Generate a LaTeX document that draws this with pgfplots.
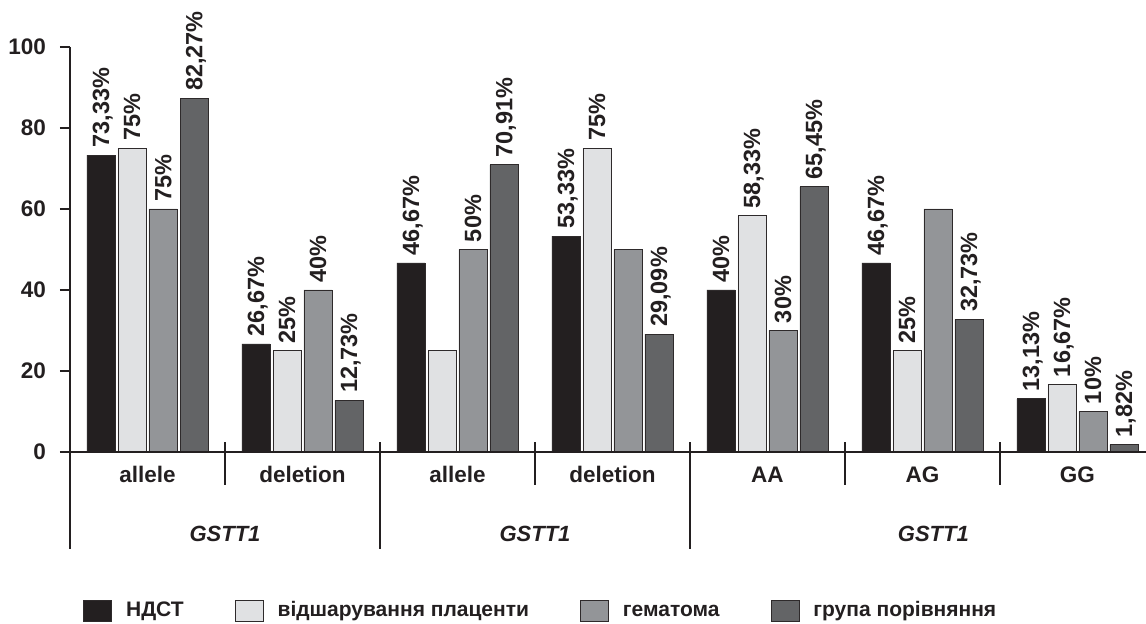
\documentclass[border=0pt]{standalone}
\usepackage{pgfplots}
\pgfplotsset{compat=1.18}
\usepackage{fontspec}
\setmainfont{Liberation Sans}
\definecolor{cA}{HTML}{231F20}
\definecolor{cB}{HTML}{E0E1E3}
\definecolor{cC}{HTML}{939598}
\definecolor{cD}{HTML}{636466}
\definecolor{cE}{HTML}{2E2A2B}
\pgfplotsset{
  sq/.style={fill=#1, draw=cE, line width=0.9bp,
    legend image code/.code={\draw[fill=#1, draw=cE, line width=0.9bp] (0bp,-10.5bp) rectangle (28bp,10.5bp);}}
}
\begin{document}
\begin{tikzpicture}
\useasboundingbox (0,0) rectangle (1146bp,624bp);
\begin{axis}[
  at={(70bp,172bp)}, anchor=south west,
  scale only axis, width=1076bp, height=405bp,
  xmin=-0.5, xmax=6.4419, ymin=0, ymax=100,
  clip=false,
  axis lines=left, axis line style={draw=none},
  ybar=3bp, bar width=28bp,
  ytick={0,20,40,60,80,100},
  tick align=outside, major tick length=10bp,
  y tick style={line width=1.2bp, color=cA},
  x tick style={draw=none},
  xtick={0,1,2,3,4,5,6},
  xticklabels={allele,deletion,allele,deletion,AA,AG,GG},
  xticklabel style={font=\fontsize{22.5bp}{26bp}\selectfont\bfseries, text=cA, anchor=base, inner sep=0pt, yshift=-20.7bp},
  yticklabel style={font=\fontsize{22.5bp}{26bp}\selectfont\bfseries, text=cA, anchor=east, inner sep=0pt, xshift=-14bp},
  /pgf/number format/assume math mode=true,
  point meta=explicit symbolic,
  nodes near coords,
  every node near coord/.append style={rotate=90, anchor=west, inner ysep=0pt, inner xsep=7bp,
     text height=16.5bp, text depth=0bp, text=cA,
     font=\fontsize{23.5bp}{27bp}\selectfont\bfseries},
  legend style={draw=none, fill=none, inner sep=0pt, at={(axis description cs:0.0121,-0.392)}, anchor=west,
     font=\fontsize{21bp}{25bp}\selectfont\bfseries, text=cA,
     /tikz/every even column/.append style={column sep=51bp},
     /tikz/every odd column/.append style={column sep=14bp},
     nodes={inner sep=0pt, text height=15.5bp, text depth=4.5bp}},
  legend columns=4, legend cell align=left,
]
\addplot[sq=cA] coordinates {(0,73.33) [73,33\%] (1,26.67) [26,67\%] (2,46.67) [46,67\%] (3,53.33) [53,33\%] (4,40) [40\%] (5,46.67) [46,67\%] (6,13.13) [13,13\%]};
\addplot[sq=cB] coordinates {(0,75) [75\%] (1,25) [25\%] (2,25) [] (3,75) [75\%] (4,58.33) [58,33\%] (5,25) [25\%] (6,16.67) [16,67\%]};
\addplot[sq=cC] coordinates {(0,60) [75\%] (1,40) [40\%] (2,50) [50\%] (3,50) [] (4,30) [30\%] (5,60) [] (6,10) [10\%]};
\addplot[sq=cD] coordinates {(0,87.3) [82,27\%] (1,12.73) [12,73\%] (2,70.91) [70,91\%] (3,29.09) [29,09\%] (4,65.45) [65,45\%] (5,32.73) [32,73\%] (6,1.82) [1,82\%]};
\legend{НДСТ,відшарування плаценти,гематома,група порівняння}
\draw[cA, line width=1.2bp] (axis cs:-0.5,0) -- (axis cs:6.4419,0);
\draw[cA, line width=1.2bp] (axis cs:-0.5,100) -- (axis cs:-0.5,-23.95);
\draw[cA, line width=1.2bp] (axis cs:0.5,2.4) -- (axis cs:0.5,-8.15);
\draw[cA, line width=1.2bp] (axis cs:2.5,2.4) -- (axis cs:2.5,-8.15);
\draw[cA, line width=1.2bp] (axis cs:4.5,2.4) -- (axis cs:4.5,-8.15);
\draw[cA, line width=1.2bp] (axis cs:5.5,2.4) -- (axis cs:5.5,-8.15);
\draw[cA, line width=1.2bp] (axis cs:1.5,2.4) -- (axis cs:1.5,-23.95);
\draw[cA, line width=1.2bp] (axis cs:3.5,2.4) -- (axis cs:3.5,-23.95);
\node[font=\fontsize{22bp}{26bp}\selectfont\bfseries\itshape, text=cA, anchor=base] at (axis cs:0.5,-22.1) {GSTT1};
\node[font=\fontsize{22bp}{26bp}\selectfont\bfseries\itshape, text=cA, anchor=base] at (axis cs:2.5,-22.1) {GSTT1};
\node[font=\fontsize{22bp}{26bp}\selectfont\bfseries\itshape, text=cA, anchor=base] at (axis cs:5.07,-22.1) {GSTT1};
\end{axis}
\end{tikzpicture}
\end{document}
